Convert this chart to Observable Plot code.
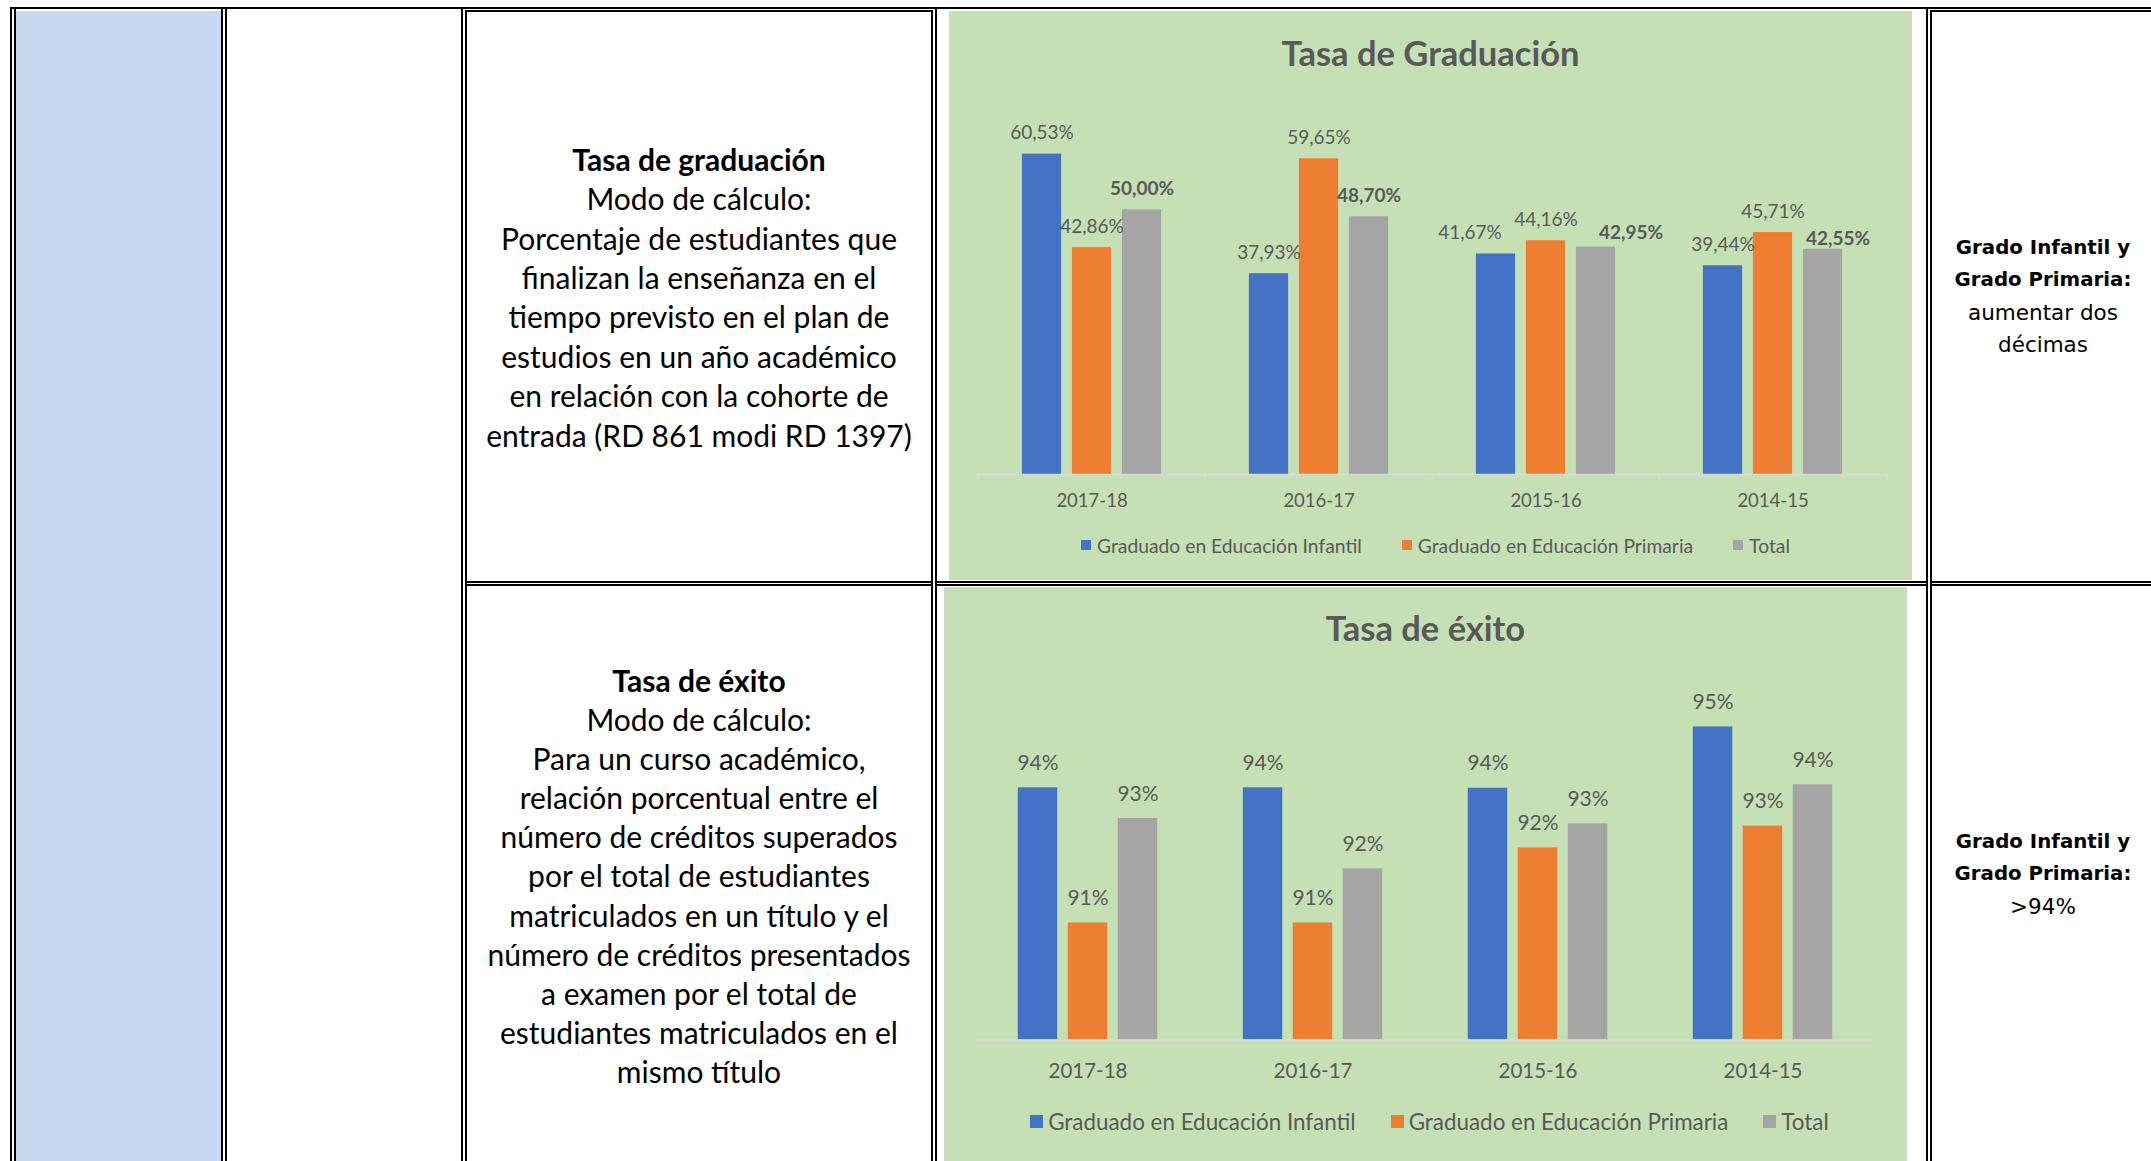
<!DOCTYPE html>
<html>
<head>
<meta charset="utf-8">
<script src="https://cdn.jsdelivr.net/npm/d3@7"></script>
<script src="https://cdn.jsdelivr.net/npm/@observablehq/plot@0.6"></script>
<style>
html, body { margin: 0; padding: 0; background: #fff; }
body { width: 2151px; height: 1161px; overflow: hidden; position: relative; font-family: Lato, "Open Sans", sans-serif; }
.ln { position: absolute; background: #000; }
.panel { position: absolute; background: #C5E0B4; border-left: 1px solid #D4D4D4; border-right: 1px solid #D4D4D4; overflow: hidden; }
.txt { position: absolute; text-align: center; white-space: nowrap; color: #000; }
.ctitle { position: absolute; left: 0; width: 100%; text-align: center; font-weight: bold; color: #595959; white-space: nowrap; }
.legend { position: absolute; left: 0; width: 100%; display: flex; justify-content: center; align-items: center; color: #595959; white-space: nowrap; }
.legend .it { display: flex; align-items: center; }
.legend .sw { display: inline-block; }
.chart { position: absolute; left: 0; top: 0; }
</style>
</head>
<body>
<script>
// ---------- data ----------
const years = ["2017-18", "2016-17", "2015-16", "2014-15"];
const seriesNames = ["Graduado en Educación Infantil", "Graduado en Educación Primaria", "Total"];
const seriesColors = ["#4472C4", "#ED7D31", "#A5A5A5"];

// Tasa de Graduación (%)
const gradInfantil = [60.53, 37.93, 41.67, 39.44];
const gradPrimaria = [42.86, 59.65, 44.16, 45.71];
const gradTotal    = [50.00, 48.70, 42.95, 42.55];

// Tasa de éxito (%) (labels are rounded)
const exitoInfantil = [93.67, 93.67, 93.66, 95.04];
const exitoPrimaria = [90.63, 90.63, 92.32, 92.81];
const exitoTotal    = [92.98, 91.85, 92.86, 93.74];

const titleGrad = "Tasa de Graduación";
const titleExito = "Tasa de éxito";

const leftTextGrad = ["Tasa de graduación", "Modo de cálculo:", "Porcentaje de estudiantes que", "finalizan la enseñanza en el", "tiempo previsto en el plan de", "estudios en un año académico", "en relación con la cohorte de", "entrada (RD 861 modi RD 1397)"];
const leftTextExito = ["Tasa de éxito", "Modo de cálculo:", "Para un curso académico,", "relación porcentual entre el", "número de créditos superados", "por el total de estudiantes", "matriculados en un título y el", "número de créditos presentados", "a examen por el total de", "estudiantes matriculados en el", "mismo título"];
const rightTextGrad = ["Grado Infantil y", "Grado Primaria:", "aumentar dos", "décimas"];
const rightTextExito = ["Grado Infantil y", "Grado Primaria:", ">94%"];

// ---------- helpers ----------
function el(tag, cls, style, parent = document.body) {
  const e = document.createElement(tag);
  if (cls) e.className = cls;
  Object.assign(e.style, style);
  parent.appendChild(e);
  return e;
}
function px(v) { return v + "px"; }

// ---------- table background & borders ----------
el("div", "", {position: "absolute", left: px(16), top: px(11), width: px(205), height: px(1150), background: "#C6D9F0"});

const vlines = [[10, 7], [14, 9], [221, 7], [225, 7], [461, 7], [465, 10], [931, 10], [935, 7], [1926, 7], [1930, 10]];
vlines.forEach(([x, y]) => el("div", "ln", {left: px(x), top: px(y), width: px(2), height: px(1161 - y)}));
const hlines = [[7, 10, 2151], [10, 465, 933], [10, 1930, 2151],
  [581, 465, 933], [584, 465, 933], [581, 935, 1928], [584, 935, 1928], [581, 1930, 2151], [584, 1930, 2151]];
hlines.forEach(([y, x1, x2]) => el("div", "ln", {left: px(x1), top: px(y), width: px(x2 - x1), height: px(2)}));

// ---------- text cells ----------
function textBlock(lines, {left, width, top, lh, size, boldSize, family, boldCount}) {
  const d = el("div", "txt", {left: px(left), width: px(width), top: px(top), fontSize: px(size), lineHeight: px(lh), fontFamily: family});
  lines.forEach((t, i) => {
    const r = el("div", "", {fontWeight: i < boldCount ? "bold" : "normal", fontSize: px(i < boldCount ? (boldSize || size) : size)}, d);
    r.textContent = t;
  });
}
textBlock(leftTextGrad, {left: 467, width: 464, top: 159.5 - 19.7, lh: 39.4, size: 30, family: "Lato", boldCount: 1});
textBlock(leftTextExito, {left: 467, width: 464, top: 680.5 - 19.55, lh: 39.1, size: 30, family: "Lato", boldCount: 1});
textBlock(rightTextGrad, {left: 1932, width: 222, top: 248 - 16.3, lh: 32.6, size: 21.5, boldSize: 19.8, family: "DejaVu Sans", boldCount: 2});
textBlock(rightTextExito, {left: 1932, width: 222, top: 842 - 16.3, lh: 32.6, size: 21.5, boldSize: 19.8, family: "DejaVu Sans", boldCount: 2});

// ---------- charts ----------
function groupedChart(cfg) {
  const {panelLeft, panelTop, width, height, marginTop, marginBottom, marginLeft, marginRight,
         yDomain, series, fmt, labelSize, labelDy, labelNudges, boldTotal, catSize, catPadding, boundaryTicks,
         title, titleSize, titleBaseline, legendCenter, legendSize, swatch, swGap, itemGap, legendShift} = cfg;

  const panel = el("div", "panel", {left: px(panelLeft - 1), top: px(panelTop), width: px(width), height: px(height)});

  const band = (width - marginLeft - marginRight) / years.length;
  const barW = 40, step = 50;
  const inset = (band - barW) / 2;
  const offsets = [-step, 0, step];
  const frameH = height - marginTop - marginBottom;

  const marks = [];
  series.forEach((vals, s) => {
    const data = years.map((y, i) => ({year: y, value: vals[i]}));
    marks.push(Plot.barY(data, {x: "year", y: "value", fill: seriesColors[s], dx: offsets[s], insetLeft: inset, insetRight: inset}));
  });
  marks.push(Plot.ruleY([yDomain[0]], {stroke: "#D9D9D9", strokeWidth: 1.5}));
  if (boundaryTicks) {
    marks.push(Plot.tickX(years, {x: d => d, dx: -band / 2, stroke: "#D9D9D9", strokeWidth: 1.5, insetTop: frameH, insetBottom: -7}));
    marks.push(Plot.tickX(years.slice(-1), {x: d => d, dx: band / 2, stroke: "#D9D9D9", strokeWidth: 1.5, insetTop: frameH, insetBottom: -7}));
  }
  // data labels (one mark per label so that Excel-style manual nudges can be reproduced)
  series.forEach((vals, s) => {
    years.forEach((y, i) => {
      const nudge = (labelNudges && labelNudges[s + "|" + y]) || [0, labelDy];
      marks.push(Plot.text([{year: y, value: vals[i]}], {x: "year", y: "value", text: d => fmt(d.value),
        dx: offsets[s] + nudge[0], dy: -nudge[1],
        lineAnchor: "bottom", fontSize: labelSize, fontWeight: (boldTotal && s === 2) ? "bold" : "normal", fill: "#595959"}));
    });
  });
  marks.push(Plot.axisX({tickSize: 0, tickPadding: catPadding, fontSize: catSize, fill: "#595959", label: null}));

  const chart = Plot.plot({
    width, height, marginTop, marginBottom, marginLeft, marginRight,
    style: {background: "transparent", color: "#595959", fontFamily: "Lato", overflow: "visible"},
    x: {type: "band", domain: years, paddingInner: 0, paddingOuter: 0, label: null},
    y: {domain: yDomain, clamp: true, axis: null},
    marks
  });
  chart.classList.add("chart");
  panel.appendChild(chart);

  const t = el("div", "ctitle", {top: px(titleBaseline - titleSize * 0.99), fontSize: px(titleSize), lineHeight: px(titleSize * 1.2)}, panel);
  t.textContent = title;

  const lg = el("div", "legend", {top: px(legendCenter - 15), height: px(30), fontSize: px(legendSize), left: px(legendShift)}, panel);
  seriesNames.forEach((n, i) => {
    const it = el("div", "it", {marginRight: i < seriesNames.length - 1 ? px(itemGap) : "0"}, lg);
    el("span", "sw", {width: px(swatch), height: px(swatch), background: seriesColors[i], marginRight: px(swGap)}, it);
    const s = el("span", "", {}, it);
    s.textContent = n;
  });
}

const fmtGrad = v => d3.format(".2f")(v).replace(".", ",") + "%";
const fmtExito = v => d3.format(".0f")(v) + "%";

groupedChart({
  panelLeft: 950, panelTop: 11, width: 961, height: 569,
  marginTop: 92.5, marginBottom: 106, marginLeft: 26, marginRight: 24,
  yDomain: [0, 70], series: [gradInfantil, gradPrimaria, gradTotal], fmt: fmtGrad,
  labelSize: 19, labelDy: 15,
  labelNudges: {"0|2015-16": [-26, 15], "2|2015-16": [35, 8], "2|2014-15": [15, 4]},
  boldTotal: true, catSize: 18.5, catPadding: 19, boundaryTicks: true,
  title: titleGrad, titleSize: 34.5, titleBaseline: 55,
  legendCenter: 534, legendSize: 19.3, swatch: 10, swGap: 6, itemGap: 40, legendShift: 5
});

groupedChart({
  panelLeft: 945, panelTop: 587, width: 961, height: 574,
  marginTop: 52.3, marginBottom: 121.6, marginLeft: 29, marginRight: 30,
  yDomain: [88, 97], series: [exitoInfantil, exitoPrimaria, exitoTotal], fmt: fmtExito,
  labelSize: 21, labelDy: 18, labelNudges: null,
  boldTotal: false, catSize: 20.5, catPadding: 23.5, boundaryTicks: false,
  title: titleExito, titleSize: 34.5, titleBaseline: 54,
  legendCenter: 534, legendSize: 22.4, swatch: 13, swGap: 5, itemGap: 35, legendShift: 4
});
</script>
</body>
</html>
